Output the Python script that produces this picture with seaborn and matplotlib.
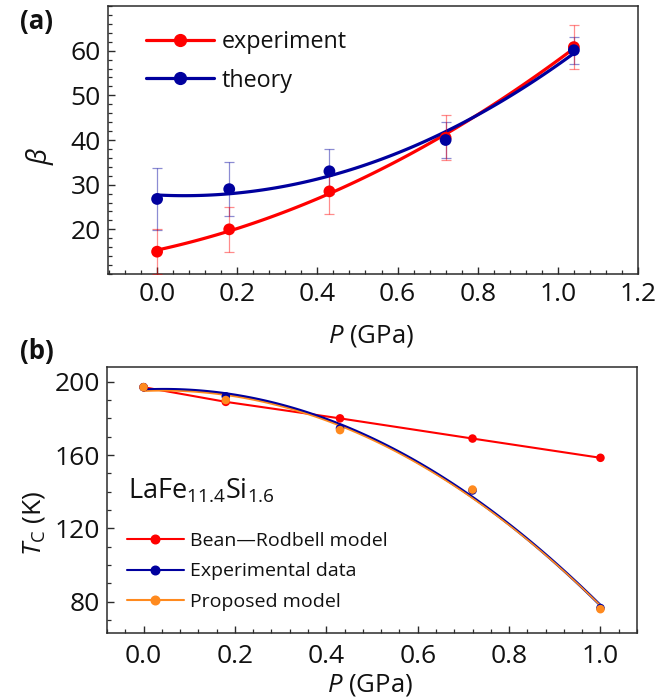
import numpy as np
import pandas as pd
import matplotlib
matplotlib.use("Agg")
import matplotlib.pyplot as plt
import seaborn as sns
from matplotlib.lines import Line2D
from matplotlib.ticker import MultipleLocator, FormatStrFormatter

# ---------------- data ----------------
# panel (a)
p_a = [0.0, 0.18, 0.43, 0.72, 1.04]
beta_exp = [15.0, 20.0, 28.5, 40.5, 60.8]
beta_exp_err = [5, 5, 5, 5, 5]
beta_theory = [26.8, 29.0, 33.0, 40.0, 60.1]
beta_theory_err = [7, 6, 5, 4, 3]

# panel (b)
p_b = [0.0, 0.18, 0.43, 0.72, 1.0]
tc_br = [197.0, 189.0, 180.0, 169.0, 158.5]
tc_exp = [197.0, 192.0, 174.6, 140.7, 76.6]
tc_prop = [197.0, 190.0, 173.6, 141.2, 76.0]

labels_a = ["experiment", "theory"]
labels_b = ["Bean\u2014Rodbell model", "Experimental data", "Proposed model"]

RED = "#FF0000"
BLUE = "#00009E"
ORANGE = "#FF8A1E"
SPINE = "#2b2b2b"
TXT = "#111111"

sns.set_theme(style="ticks")
plt.rcParams["font.family"] = ["Open Sans", "DejaVu Sans"]
plt.rcParams["mathtext.fontset"] = "custom"
plt.rcParams["mathtext.rm"] = "Open Sans"
plt.rcParams["mathtext.it"] = "Open Sans:italic"
plt.rcParams["mathtext.bf"] = "Open Sans:bold"

fig = plt.figure(figsize=(6.57, 7.0), dpi=100)
ax1 = fig.add_axes([108/657, 1-274/700, 530/657, 268/700])
ax2 = fig.add_axes([107/657, 1-633/700, 530/657, 266/700])


def style_axes(ax, xpad, ypad):
    for s in ax.spines.values():
        s.set_visible(True)
        s.set_color(SPINE)
        s.set_linewidth(1.1)
    ax.tick_params(axis="both", which="both", direction="in", colors=SPINE,
                   labelcolor=TXT, top=False, right=False, labelsize=19)
    ax.tick_params(axis="both", which="major", length=5, width=1.0)
    ax.tick_params(axis="both", which="minor", length=3, width=0.9)
    ax.tick_params(axis="x", which="major", pad=xpad)
    ax.tick_params(axis="y", which="major", pad=ypad)
    ax.grid(False)


# ---------------- panel (a) ----------------
sns.regplot(x=p_a, y=beta_exp, order=2, ci=None, scatter=False, truncate=True,
            ax=ax1, line_kws=dict(color=RED, lw=2.3, zorder=2))
sns.regplot(x=p_a, y=beta_theory, order=2, ci=None, scatter=False, truncate=True,
            ax=ax1, line_kws=dict(color=BLUE, lw=2.3, zorder=3))
ax1.errorbar(p_a, beta_theory, yerr=beta_theory_err, fmt="none", ecolor=BLUE,
             alpha=0.45, elinewidth=0.9, capsize=3.5, capthick=0.9, zorder=4)
ax1.errorbar(p_a, beta_exp, yerr=beta_exp_err, fmt="none", ecolor=RED,
             alpha=0.45, elinewidth=0.9, capsize=3.5, capthick=0.9, zorder=4)
sns.scatterplot(x=p_a, y=beta_exp, color=RED, s=72, edgecolor="none", ax=ax1,
                zorder=5, legend=False)
sns.scatterplot(x=p_a, y=beta_theory, color=BLUE, s=72, edgecolor="none", ax=ax1,
                zorder=6, legend=False)

ax1.set_xlim(-0.1225, 1.2)
ax1.set_ylim(10, 70)
ax1.xaxis.set_major_locator(MultipleLocator(0.2))
ax1.xaxis.set_minor_locator(MultipleLocator(0.04))
ax1.yaxis.set_minor_locator(MultipleLocator(2))
ax1.set_yticks([20, 30, 40, 50, 60])
ax1.xaxis.set_major_formatter(FormatStrFormatter("%.1f"))
style_axes(ax1, 6, 5)
ax1.set_xlabel(r"$P$ (GPa)", fontsize=18.5, color=TXT)
ax1.set_ylabel(r"$\beta$", fontsize=20, rotation=90, color=TXT)
ax1.xaxis.set_label_coords(0.497, -0.183)
ax1.yaxis.set_label_coords(-0.099, 0.44)

h_a = [Line2D([], [], color=RED, lw=2.3, marker="o", ms=8.5),
       Line2D([], [], color=BLUE, lw=2.3, marker="o", ms=8.5)]
ax1.legend(h_a, labels_a, loc="upper left", bbox_to_anchor=(0.072, 0.91),
           frameon=False, fontsize=16.8, handlelength=2.9, handletextpad=0.35,
           labelspacing=0.62, borderpad=0, borderaxespad=0, labelcolor=TXT)

# ---------------- panel (b) ----------------
sns.lineplot(x=p_b, y=tc_br, color=RED, lw=1.5, ax=ax2, zorder=2)
sns.regplot(x=p_b, y=tc_exp, order=2, ci=None, scatter=False, truncate=True,
            ax=ax2, line_kws=dict(color=BLUE, lw=2.0, zorder=3))
sns.regplot(x=p_b, y=tc_prop, order=2, ci=None, scatter=False, truncate=True,
            ax=ax2, line_kws=dict(color=ORANGE, lw=1.2, zorder=4))
sns.scatterplot(x=p_b, y=tc_br, color=RED, s=38, edgecolor="none", ax=ax2,
                zorder=5, legend=False)
sns.scatterplot(x=p_b, y=tc_exp, color=BLUE, s=38, edgecolor="none", ax=ax2,
                zorder=6, legend=False)
sns.scatterplot(x=p_b, y=tc_prop, color=ORANGE, s=38, edgecolor="none", ax=ax2,
                zorder=7, legend=False)

ax2.set_xlim(-0.08, 1.08)
ax2.set_ylim(63, 208)
ax2.xaxis.set_major_locator(MultipleLocator(0.2))
ax2.xaxis.set_minor_locator(MultipleLocator(0.04))
ax2.yaxis.set_minor_locator(MultipleLocator(10))
ax2.set_yticks([80, 120, 160, 200])
ax2.xaxis.set_major_formatter(FormatStrFormatter("%.1f"))
style_axes(ax2, 8, 5)
ax2.set_xlabel(r"$P$ (GPa)", fontsize=18.5, color=TXT)
ax2.set_ylabel(r"$T_\mathrm{C}$ (K)", fontsize=19, rotation=90, color=TXT)
ax2.xaxis.set_label_coords(0.497, -0.148)
ax2.yaxis.set_label_coords(-0.113, 0.41)

ax2.text(0.04, 0.5075, r"LaFe$_{11.4}$Si$_{1.6}$", transform=ax2.transAxes,
         fontsize=19.5, va="baseline", ha="left", color=TXT)

h_b = [Line2D([], [], color=RED, lw=1.5, marker="o", ms=6.2),
       Line2D([], [], color=BLUE, lw=1.5, marker="o", ms=6.2),
       Line2D([], [], color=ORANGE, lw=1.5, marker="o", ms=6.2)]
ax2.legend(h_b, labels_b, loc="upper left", bbox_to_anchor=(0.037, 0.38),
           frameon=False, fontsize=14, handlelength=2.95, handletextpad=0.3,
           labelspacing=0.64, borderpad=0, borderaxespad=0, labelcolor=TXT)

fig.text(20/657, 1-8/700, "(a)", fontsize=18.5, fontweight="bold", ha="left",
         va="top", color=TXT)
fig.text(20/657, 1-338/700, "(b)", fontsize=18.5, fontweight="bold", ha="left",
         va="top", color=TXT)

fig.savefig("out.png", dpi=100)
